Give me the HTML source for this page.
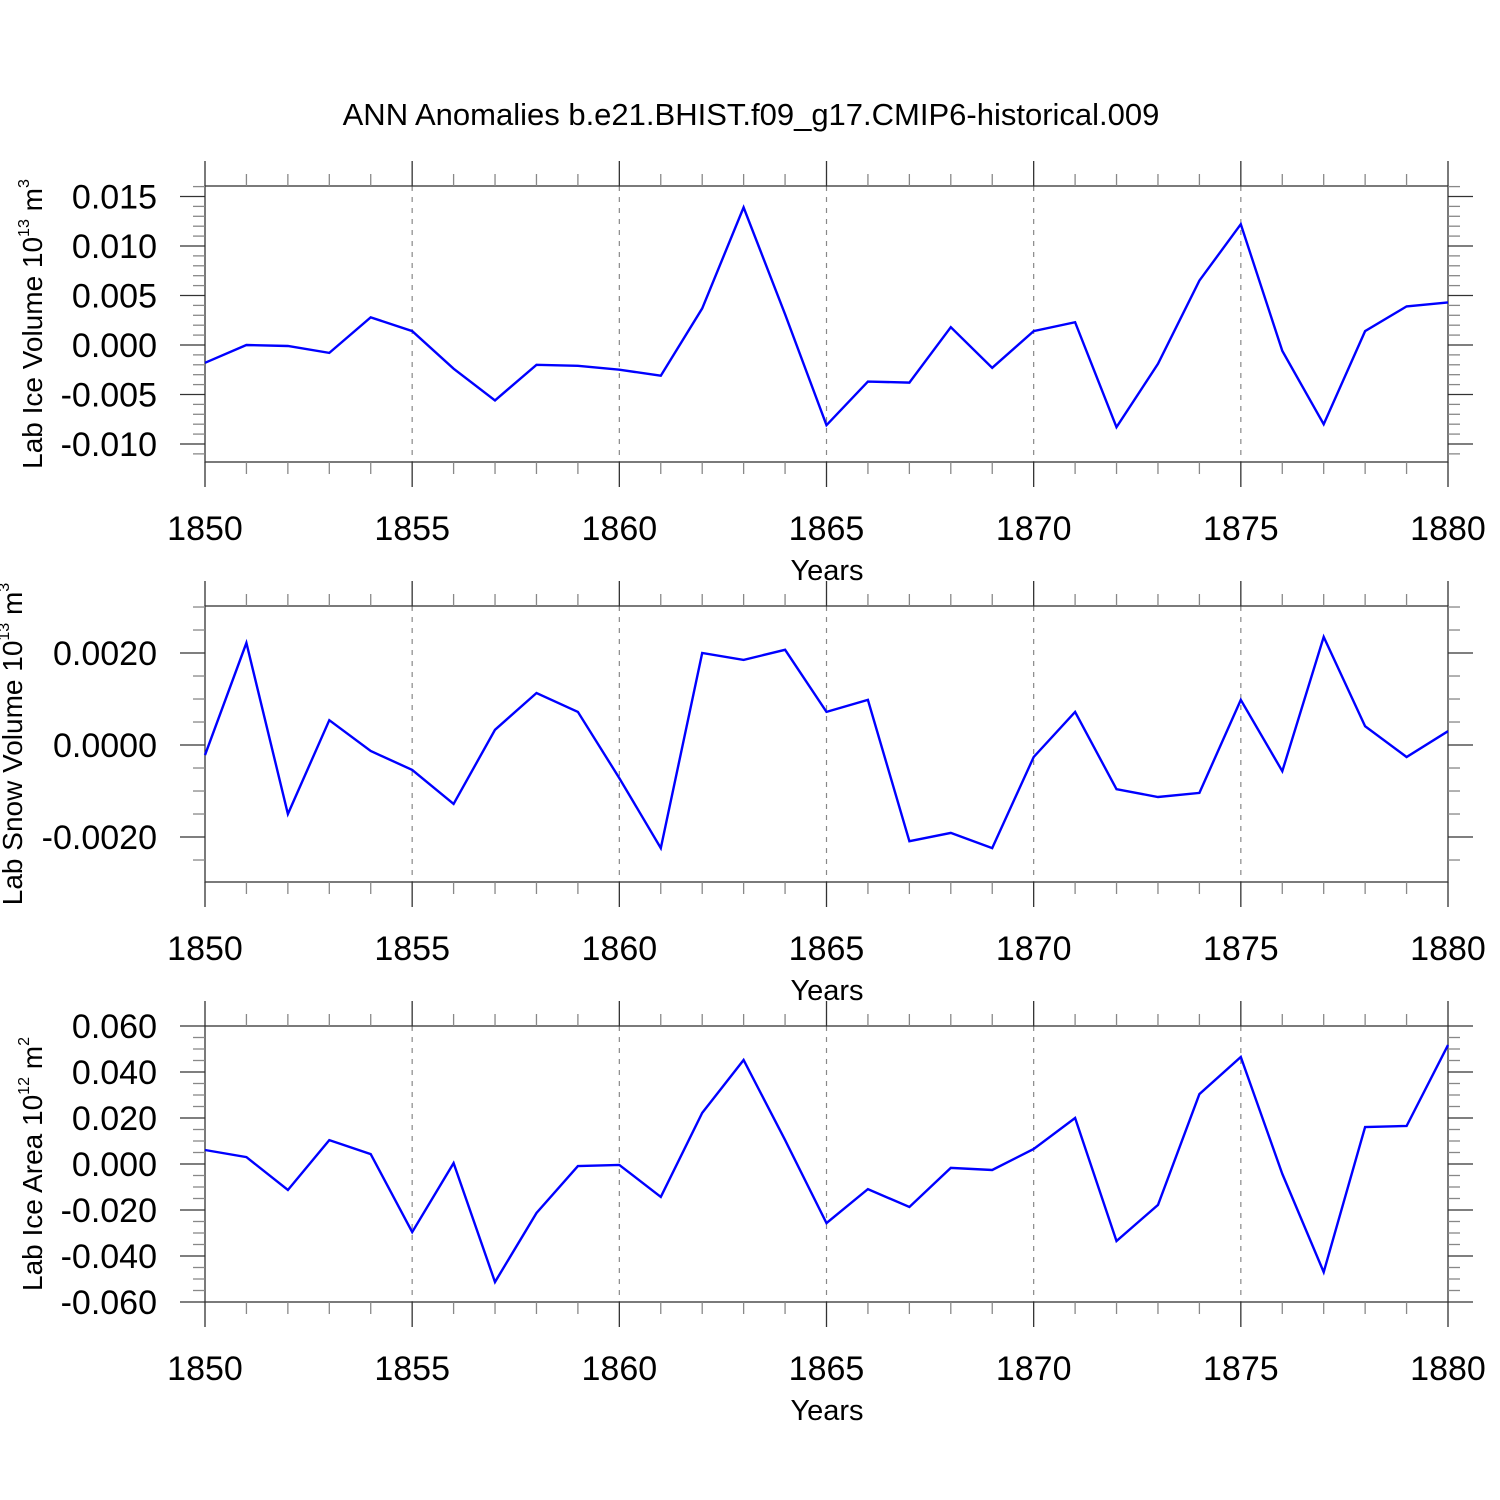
<!DOCTYPE html>
<html><head><meta charset="utf-8"><style>
html,body{margin:0;padding:0;background:#fff;}
svg{display:block;font-family:"Liberation Sans",sans-serif;}
</style></head><body>
<svg id="chart" width="1500" height="1500" viewBox="0 0 1500 1500">
<text x="751" y="125" font-size="31" text-anchor="middle">ANN Anomalies b.e21.BHIST.f09_g17.CMIP6-historical.009</text>
</svg>
<script>
const years = [1850,1851,1852,1853,1854,1855,1856,1857,1858,1859,1860,1861,1862,1863,1864,1865,1866,1867,1868,1869,1870,1871,1872,1873,1874,1875,1876,1877,1878,1879,1880];
const iceVolume = [-0.0018,0.0000,-0.0001,-0.0008,0.0028,0.0014,-0.0024,-0.0056,-0.0020,-0.0021,-0.0025,-0.0031,0.0037,0.0139,0.0031,-0.0081,-0.0037,-0.0038,0.0018,-0.0023,0.0014,0.0023,-0.0083,-0.0019,0.0065,0.0122,-0.0006,-0.0080,0.0014,0.0039,0.0043];
const snowVolume = [-0.00022,0.00222,-0.0015,0.00054,-0.00013,-0.00054,-0.00128,0.00033,0.00113,0.00072,-0.00072,-0.00224,0.0020,0.00185,0.00207,0.00072,0.00098,-0.00209,-0.00191,-0.00224,-0.00026,0.00072,-0.00096,-0.00113,-0.00104,0.00098,-0.00057,0.00235,0.00041,-0.00026,0.0003];
const iceArea = [0.0061,0.003,-0.0113,0.0104,0.0043,-0.0296,0.0004,-0.0513,-0.0213,-0.0009,-0.0004,-0.0143,0.0222,0.0452,0.0104,-0.0257,-0.0109,-0.0187,-0.0017,-0.0026,0.0065,0.020,-0.0335,-0.0178,0.0304,0.0465,-0.0043,-0.047,0.0161,0.0165,0.0517];
const xTickLabels = ["1850","1855","1860","1865","1870","1875","1880"];
const iceVolTicks = ["0.015","0.010","0.005","0.000","-0.005","-0.010"];
const snowTicks = ["0.0020","0.0000","-0.0020"];
const areaTicks = ["0.060","0.040","0.020","0.000","-0.020","-0.040","-0.060"];

const NS="http://www.w3.org/2000/svg";
const svg=document.getElementById('chart');
function mk(tag,attrs,parent){const e=document.createElementNS(NS,tag);for(const k in attrs)e.setAttribute(k,attrs[k]);(parent||svg).appendChild(e);return e;}
const X0=205,X1=1448;
function xs(yr){return X0+(yr-1850)/30*(X1-X0);}

const panels=[
 {name:'ice-volume',top:186,bot:462,vmin:-0.01182,vmax:0.01606,data:iceVolume,ticks:iceVolTicks,major:0.005,minor:0.001,title:'Lab Ice Volume 10',exp:'13',unit:' m',uexp:'3',tx:42},
 {name:'snow-volume',top:606,bot:882,vmin:-0.002978,vmax:0.003022,data:snowVolume,ticks:snowTicks,major:0.002,minor:0.0005,title:'Lab Snow Volume 10',exp:'13',unit:' m',uexp:'3',tx:22},
 {name:'ice-area',top:1026,bot:1302,vmin:-0.06,vmax:0.06,data:iceArea,ticks:areaTicks,major:0.02,minor:0.005,title:'Lab Ice Area 10',exp:'12',unit:' m',uexp:'2',tx:42}
];
panels.forEach(p=>{
 const g=mk('g',{});
 
 
 const ys=v=>p.bot-(v-p.vmin)/(p.vmax-p.vmin)*(p.bot-p.top);
 for(let yr=1855;yr<=1875;yr+=5){
  const l=mk('line',{x1:xs(yr),x2:xs(yr),y1:p.top,y2:p.bot,stroke:'#888','stroke-width':1.2,'stroke-dasharray':'5,6'},g);
  
  
 }
 const fr=mk('rect',{x:X0,y:p.top,width:X1-X0,height:p.bot-p.top,fill:'none',stroke:'#333','stroke-width':1.3},g);
 
 
 for(let yr=1850;yr<=1880;yr++){
  const maj=yr%5===0, len=maj?25:12, x=xs(yr), c=maj?'#333':'#888';
  mk('line',{x1:x,x2:x,y1:p.top,y2:p.top-len,stroke:c,'stroke-width':1.3},g);
  mk('line',{x1:x,x2:x,y1:p.bot,y2:p.bot+len,stroke:c,'stroke-width':1.3},g);
 }
 xTickLabels.forEach(s=>{
  const t=mk('text',{x:xs(+s),y:p.bot+78,'font-size':34,'text-anchor':'middle'},g);
  t.textContent=s;
  
  
 });
 const xt=mk('text',{x:827,y:p.bot+118,'font-size':29,'text-anchor':'middle'},g);
 xt.textContent='Years';
 
 
 const start=Math.ceil(p.vmin/p.minor-1e-6);
 for(let i=start;i*p.minor<=p.vmax+1e-9;i++){
  const v=i*p.minor, maj=Math.abs(v/p.major-Math.round(v/p.major))<1e-6, len=maj?25:12, y=ys(v), c=maj?'#333':'#888';
  mk('line',{x1:X0,x2:X0-len,y1:y,y2:y,stroke:c,'stroke-width':1.3},g);
  mk('line',{x1:X1,x2:X1+len,y1:y,y2:y,stroke:c,'stroke-width':1.3},g);
 }
 p.ticks.forEach(s=>{
  const t=mk('text',{x:157,y:ys(parseFloat(s))+12,'font-size':34,'text-anchor':'end'},g);
  t.textContent=s;
  
  
 });
 const cy=(p.top+p.bot)/2;
 const yt=mk('text',{x:0,y:0,'font-size':28,'text-anchor':'middle',transform:`translate(${p.tx},${cy}) rotate(-90)`},g);
 
 
 const a=mk('tspan',{},yt);a.textContent=p.title;
 const b=mk('tspan',{'font-size':16,dy:-13},yt);b.textContent=p.exp;
 const c=mk('tspan',{dy:13},yt);c.textContent=p.unit;
 const d=mk('tspan',{'font-size':16,dy:-13},yt);d.textContent=p.uexp;
 const pts=p.data.map((v,i)=>xs(years[i]).toFixed(1)+','+ys(v).toFixed(1)).join(' ');
 const pl=mk('polyline',{points:pts,fill:'none',stroke:'#0000ff','stroke-width':2.4,'stroke-linejoin':'miter'},g);
 
 
});
</script>
</body></html>
